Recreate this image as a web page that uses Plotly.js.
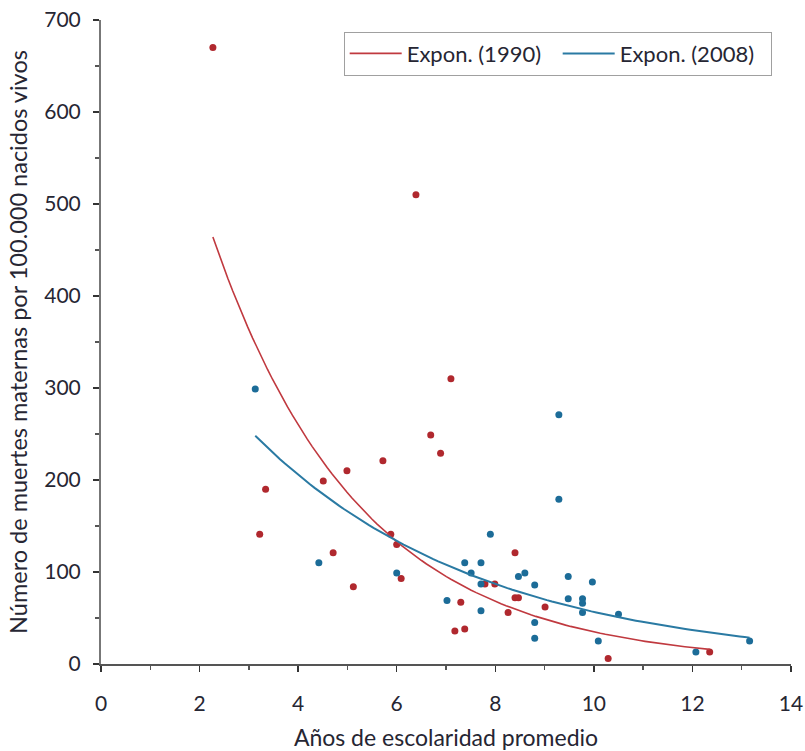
<!DOCTYPE html>
<html>
<head>
<meta charset="utf-8">
<script src="https://cdn.plot.ly/plotly-3.0.1.min.js"></script>
<style>html,body{margin:0;padding:0;background:#fff;}#chart{width:805px;height:751px;}</style>
</head>
<body>
<div id="chart"></div>
<script>
// 1990 data
const x1990 = [2.27, 3.22, 3.34, 4.51, 4.71, 4.99, 5.12, 5.72, 5.88, 6.00, 6.09, 6.39, 6.69, 6.89, 7.10, 7.18, 7.30, 7.38, 7.79, 7.99, 8.26, 8.40, 8.40, 8.47, 9.01, 10.29, 12.35];
const y1990 = [670, 141, 190, 199, 121, 210, 84, 221, 141, 130, 93, 510, 249, 229, 310, 36, 67, 38, 87, 87, 56, 121, 72, 72, 62, 6, 13];
// 2008 data
const x2008 = [3.13, 4.42, 6.00, 7.02, 7.38, 7.51, 7.71, 7.71, 7.71, 7.90, 8.47, 8.60, 8.80, 8.80, 8.80, 9.29, 9.29, 9.48, 9.48, 9.77, 9.77, 9.77, 9.97, 10.09, 10.50, 12.07, 13.16];
const y2008 = [299, 110, 99, 69, 110, 99, 110, 87, 58, 141, 95, 99, 86, 45, 28, 271, 179, 95, 71, 71, 66, 56, 89, 25, 54, 13, 25];
const seriesNames = ['Expon. (1990)', 'Expon. (2008)'];
const xTicks = [0, 2, 4, 6, 8, 10, 12, 14];
const yTicks = [0, 100, 200, 300, 400, 500, 600, 700];

// Exponential trendline (least squares on ln y), as a spreadsheet trendline does
function expFit(xs, ys) {
  const n = xs.length;
  const ly = ys.map(v => Math.log(v));
  const mx = xs.reduce((a, b) => a + b, 0) / n;
  const my = ly.reduce((a, b) => a + b, 0) / n;
  let sxy = 0, sxx = 0;
  for (let i = 0; i < n; i++) { sxy += (xs[i] - mx) * (ly[i] - my); sxx += (xs[i] - mx) ** 2; }
  const b = sxy / sxx, a = Math.exp(my - b * mx);
  const lo = Math.min(...xs), hi = Math.max(...xs);
  const fx = [], fy = [];
  for (let k = 0; k <= 100; k++) { const x = lo + (hi - lo) * k / 100; fx.push(x); fy.push(a * Math.exp(b * x)); }
  return {fx, fy};
}
const f1 = expFit(x1990, y1990);
const f2 = expFit(x2008, y2008);

const red = '#b0282e', blue = '#1c6c98';
const redLine = '#c0393f', blueLine = '#2a7aa3';

const traces = [
  {x: x1990, y: y1990, mode: 'markers', type: 'scatter', showlegend: false,
   marker: {color: red, size: 7}, hoverinfo: 'x+y'},
  {x: x2008, y: y2008, mode: 'markers', type: 'scatter', showlegend: false,
   marker: {color: blue, size: 7}, hoverinfo: 'x+y'},
  {x: f1.fx, y: f1.fy, mode: 'lines', type: 'scatter', name: seriesNames[0],
   line: {color: redLine, width: 1.6}},
  {x: f2.fx, y: f2.fy, mode: 'lines', type: 'scatter', name: seriesNames[1],
   line: {color: blueLine, width: 2}}
];

const fontFam = 'Lato, "Open Sans", sans-serif';
const txt = '#262633';
const layout = {
  width: 805, height: 751,
  margin: {l: 101, r: 14, t: 20, b: 87},
  paper_bgcolor: '#ffffff', plot_bgcolor: '#ffffff',
  font: {family: fontFam, size: 21, color: txt},
  showlegend: true,
  legend: {orientation: 'h', x: 0.972, xanchor: 'right', y: 0.982, yanchor: 'top',
    bordercolor: '#a0a0a0', borderwidth: 1, bgcolor: '#ffffff',
    font: {family: fontFam, size: 22, color: txt}, itemwidth: 52,
    entrywidth: 146, entrywidthmode: 'pixels'},
  xaxis: {range: [0, 14], tickvals: xTicks, ticktext: xTicks.map(String),
    showgrid: false, zeroline: false, showline: true, linecolor: '#555', linewidth: 2,
    ticks: 'outside', ticklen: 6, tickwidth: 1.5, tickcolor: '#333',
    minor: {dtick: 1, ticks: 'outside', ticklen: 4, tickcolor: '#555'},
    ticklabelstandoff: 14, tickfont: {size: 21},
    title: {text: 'Años de escolaridad promedio', standoff: 16, font: {size: 23}}},
  yaxis: {range: [0, 700], tickvals: yTicks, ticktext: yTicks.map(String),
    showgrid: false, zeroline: false, showline: true, linecolor: '#777', linewidth: 2,
    ticks: 'outside', ticklen: 6, tickwidth: 1.5, tickcolor: '#333',
    minor: {dtick: 50, ticks: 'outside', ticklen: 4, tickcolor: '#555'},
    ticklabelstandoff: 8, tickfont: {size: 21},
    title: {text: 'Número de muertes maternas por 100.000 nacidos vivos', standoff: 10, font: {size: 23.5}}}
};

Plotly.newPlot('chart', traces, layout, {displayModeBar: false, staticPlot: true});
</script>
</body>
</html>
